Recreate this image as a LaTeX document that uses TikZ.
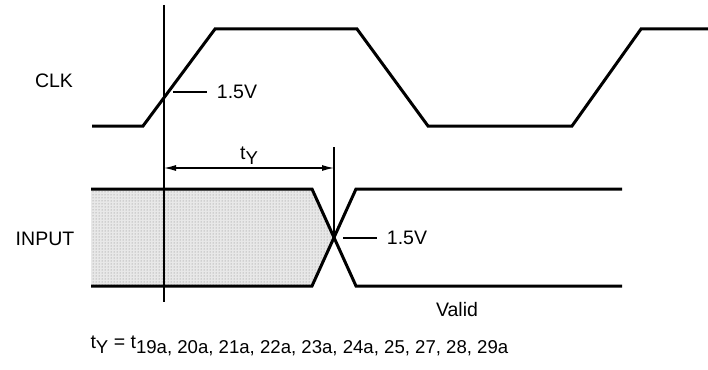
\documentclass[tikz,border=0pt]{standalone}
\usepackage{fontspec}
\setmainfont{Liberation Sans}
\usetikzlibrary{positioning,arrows.meta,patterns}
\newcommand{\lowsub}[1]{\raisebox{-5pt}{\fontsize{18.6}{20}\selectfont #1}}

\begin{document}
\begin{tikzpicture}[x=1pt,y=-1pt,font=\fontsize{19.5}{21}\selectfont,
	wave/.style={line width=3pt,line join=miter},
	guide/.style={line width=1.2pt},
	shade/.style={fill=gray!18}]
	\useasboundingbox (0,0) rectangle (708,369);
	\node (clk) at (54,81) {CLK};
	\node (inp) at (45,239) {INPUT};

	% clock edges
	\draw[wave] (92,126) -- (143,126) -- (215,29) -- (357,29) -- (428,126) -- (572,126) -- (641,29) -- (708,29);

	% input data, not yet valid
	\fill[shade] (91,189) -- (312,189) -- (334,237.5) -- (312,286) -- (91,286) -- cycle;
	\fill[pattern=dots,pattern color=gray] (91,189) -- (312,189) -- (334,237.5) -- (312,286) -- (91,286) -- cycle;
	\draw[wave] (91,189) -- (312,189) -- (356,286) -- (622,286);
	\draw[wave] (91,286) -- (312,286) -- (356,189) -- (622,189);

	\coordinate (e1) at (164,5);
	\coordinate (e1b) at (164,302);
	\coordinate (e2) at (334,147);
	\coordinate (x) at (334,237);
	\draw[guide] (e1) -- (e1b);
	\draw[guide] (e2) -- (x);
	\draw[guide,{Latex[length=12pt,width=6pt]}-{Latex[length=12pt,width=6pt]}] (164,168) coordinate (ta) -- (334,168) coordinate (tb) node[midway,above=0pt] (ty) {t\lowsub{Y}};

	\coordinate (c1) at (173,92);
	\coordinate (c2) at (207,92);
	\draw[guide] (c1) -- (c2) node[right=6pt] (vclk) {1.5V};
	\coordinate (i1) at (343,238);
	\coordinate (i2) at (377,238);
	\draw[guide] (i1) -- (i2) node[right=6pt] (vin) {1.5V};

	\node (valid) at (457,310) {Valid};
	\node[anchor=west] (eq) at (87,346) {t\lowsub{Y} = t\lowsub{19a, 20a, 21a, 22a, 23a, 24a, 25, 27, 28, 29a}};
\end{tikzpicture}
\end{document}
